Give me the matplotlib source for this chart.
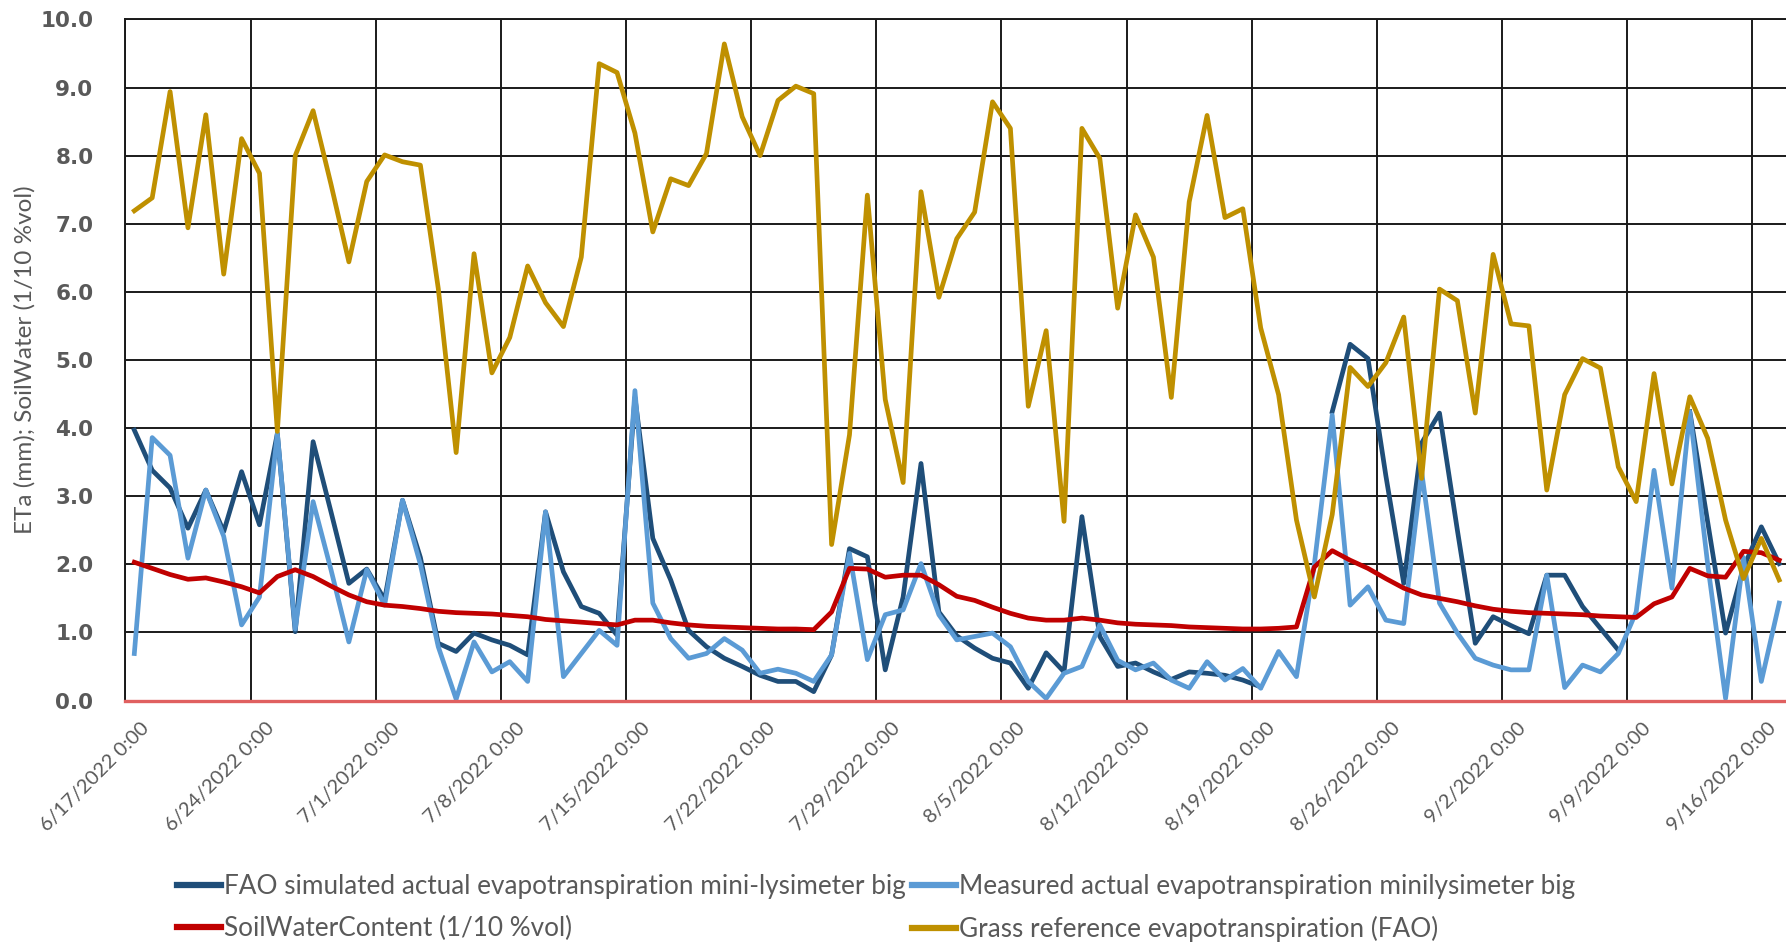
import numpy as np
import pandas as pd
import matplotlib
matplotlib.use("Agg")
import matplotlib.pyplot as plt
from matplotlib.transforms import ScaledTranslation

nan = np.nan

# one value per day, 6/17/2022 .. 9/17/2022
fao_sim = [3.97, 3.38, 3.12, 2.53, 3.09, 2.48, 3.36, 2.58, 3.92, 1.01,
           3.80, 2.77, 1.72, 1.93, 1.48, 2.94, 2.10, 0.84, 0.72, 0.99,
           0.89, 0.81, 0.67, 2.77, 1.89, 1.38, 1.28, 0.96, 4.45, 2.38,
           1.77, 1.03, 0.79, 0.62, 0.50, 0.37, 0.28, 0.28, 0.13, 0.67,
           2.23, 2.11, 0.45, 1.52, 3.48, 1.30, 0.95, 0.77, 0.62, 0.55,
           0.18, 0.70, 0.42, 2.70, 0.94, 0.50, 0.55, 0.42, 0.31, 0.42,
           0.40, 0.37, 0.30, 0.20, nan, nan, nan, 4.24, 5.23, 5.02,
           3.30, 1.72, 3.78, 4.22, 2.50, 0.84, 1.23, 1.10, 0.98, 1.84,
           1.84, 1.38, 1.06, 0.74, nan, nan, nan, 4.24, 2.62, 0.99,
           1.95, 2.55, 2.01]

measured = [0.69, 3.86, 3.60, 2.09, 3.09, 2.41, 1.11, 1.52, 3.92, 1.05,
            2.92, 1.92, 0.86, 1.92, 1.40, 2.94, 2.00, 0.79, 0.02, 0.86,
            0.42, 0.57, 0.28, 2.77, 0.35, 0.69, 1.03, 0.81, 4.55, 1.43,
            0.91, 0.62, 0.69, 0.91, 0.74, 0.40, 0.46, 0.40, 0.28, 0.67,
            2.16, 0.60, 1.26, 1.33, 2.01, 1.26, 0.89, 0.94, 0.99, 0.79,
            0.28, 0.03, 0.40, 0.50, 1.11, 0.59, 0.45, 0.55, 0.30, 0.18,
            0.57, 0.30, 0.47, 0.18, 0.72, 0.35, 2.00, 4.19, 1.40, 1.67,
            1.18, 1.13, 3.36, 1.43, 0.99, 0.62, 0.52, 0.45, 0.45, 1.84,
            0.19, 0.52, 0.42, 0.69, 1.30, 3.38, 1.65, 4.24, 2.00, 0.03,
            2.10, 0.28, 1.43]

soil_water = [2.03, 1.94, 1.85, 1.78, 1.80, 1.74, 1.67, 1.58, 1.82, 1.92,
              1.82, 1.68, 1.55, 1.45, 1.40, 1.38, 1.35, 1.31, 1.29, 1.28,
              1.27, 1.25, 1.23, 1.19, 1.17, 1.15, 1.13, 1.11, 1.18, 1.18,
              1.14, 1.11, 1.09, 1.08, 1.07, 1.06, 1.05, 1.05, 1.04, 1.30,
              1.94, 1.93, 1.81, 1.84, 1.84, 1.70, 1.53, 1.47, 1.37, 1.28,
              1.21, 1.18, 1.18, 1.21, 1.18, 1.14, 1.12, 1.11, 1.10, 1.08,
              1.07, 1.06, 1.05, 1.05, 1.06, 1.08, 1.96, 2.20, 2.06, 1.94,
              1.79, 1.65, 1.55, 1.50, 1.45, 1.39, 1.34, 1.31, 1.29, 1.28,
              1.27, 1.26, 1.24, 1.23, 1.22, 1.42, 1.52, 1.94, 1.83, 1.81,
              2.19, 2.17, 2.06]

grass_ref = [7.19, 7.38, 8.94, 6.94, 8.60, 6.26, 8.25, 7.74, 3.95, 8.00,
             8.66, 7.58, 6.44, 7.62, 8.01, 7.91, 7.86, 6.05, 3.64, 6.56,
             4.81, 5.33, 6.38, 5.84, 5.49, 6.51, 9.35, 9.22, 8.33, 6.88,
             7.66, 7.56, 8.03, 9.64, 8.57, 8.00, 8.81, 9.02, 8.91, 2.29,
             3.90, 7.42, 4.42, 3.20, 7.47, 5.92, 6.78, 7.17, 8.79, 8.40,
             4.32, 5.43, 2.63, 8.40, 7.96, 5.76, 7.13, 6.51, 4.45, 7.32,
             8.59, 7.09, 7.22, 5.47, 4.49, 2.65, 1.52, 2.73, 4.89, 4.61,
             4.96, 5.63, 3.26, 6.04, 5.87, 4.22, 6.55, 5.53, 5.50, 3.09,
             4.49, 5.02, 4.88, 3.43, 2.92, 4.80, 3.18, 4.46, 3.85, 2.65,
             1.79, 2.38, 1.77]

labels = ["FAO simulated actual evapotranspiration mini-lysimeter big",
          "Measured actual evapotranspiration minilysimeter big",
          "SoilWaterContent (1/10 %vol)",
          "Grass reference evapotranspiration (FAO)"]
colors = ["#1F4E79", "#5B9BD5", "#C00000", "#BF9000"]

# excel puts each daily value in the middle of its day
days = pd.date_range("2022-06-17 12:00", periods=len(grass_ref), freq="D")
ticks = pd.date_range("2022-06-17", "2022-09-16", freq="7D")

grey = "#595959"
dpi = 100
fig = plt.figure(figsize=(1786 / dpi, 946 / dpi), dpi=dpi)
ax = fig.add_axes([0.0702, 0.2595, 0.9298, 0.72])

lines = []
for vals, col, lab in zip([fao_sim, measured, soil_water, grass_ref], colors, labels):
    ln, = ax.plot(days, vals, color=col, lw=3.4, label=lab, zorder=3)
    lines.append(ln)

x0 = pd.Timestamp("2022-06-17")
ax.set_xlim(x0, x0 + pd.Timedelta(days=92.88))
ax.set_ylim(0, 10)

ax.set_xticks(ticks)
ax.set_xticklabels([f"{d.month}/{d.day}/{d.year} 0:00" for d in ticks])
ax.set_yticks(np.arange(0, 11, 1))
ax.set_yticklabels([f"{v:.1f}" for v in np.arange(0, 11, 1)])

ax.grid(True, color="#1a1a1a", lw=1.4, zorder=1)
ax.axhline(0, color="#E06060", lw=2.4, zorder=4, clip_on=False)
for s in ["right", "bottom"]:
    ax.spines[s].set_visible(False)
for s in ["left", "top"]:
    ax.spines[s].set_color("#1a1a1a")
    ax.spines[s].set_linewidth(1.4)

ax.tick_params(axis="both", length=0)
ax.tick_params(axis="y", pad=23)
for t in ax.get_yticklabels():
    t.set_fontweight("bold")
    t.set_fontsize(15.5)
    t.set_color(grey)
    t.set_family("DejaVu Sans")

off = ScaledTranslation(15 / dpi, -14 / dpi, fig.dpi_scale_trans)
for t in ax.get_xticklabels():
    t.set_rotation(45)
    t.set_ha("right")
    t.set_va("top")
    t.set_rotation_mode("anchor")
    t.set_fontsize(14.5)
    t.set_color(grey)
    t.set_family("Lato")
    t.set_transform(t.get_transform() + off)

ax.set_ylabel("ETa (mm); SoilWater (1/10 %vol)", fontsize=17.5, color=grey,
              family="Lato")
ax.yaxis.set_label_coords(-0.054, 0.5)

# excel fills the legend row by row
order = [0, 2, 1, 3]
leg = fig.legend([lines[i] for i in order], [labels[i] for i in order],
                 loc="upper left", bbox_to_anchor=(0.093, 0.087), ncol=2,
                 frameon=False, prop={"family": "Lato", "size": 18.8},
                 handlelength=1.7, handletextpad=0.1, columnspacing=0.25,
                 labelspacing=0.65, borderaxespad=0)
for h in leg.get_lines():
    h.set_linewidth(4.5)
for t in leg.get_texts():
    t.set_color(grey)

fig.savefig("out.png", dpi=dpi)
